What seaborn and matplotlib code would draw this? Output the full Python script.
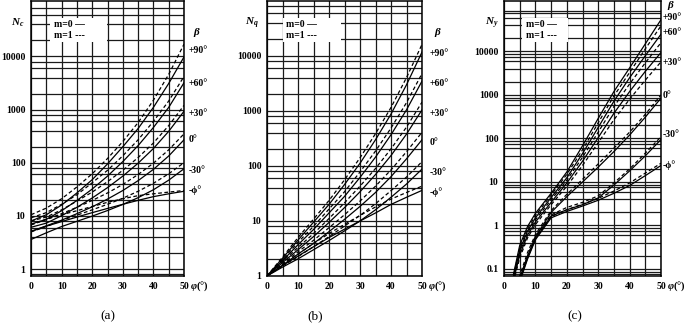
import pandas as pd
import seaborn as sns
import matplotlib.pyplot as plt
from matplotlib.patches import Rectangle
from matplotlib.ticker import LogLocator, NullFormatter, MultipleLocator

plt.rcParams["font.family"] = ["Liberation Serif", "DejaVu Serif"]
plt.rcParams["font.weight"] = "bold"
plt.rcParams["mathtext.fontset"] = "custom"
plt.rcParams["mathtext.it"] = "Liberation Serif:italic:bold"
plt.rcParams["mathtext.rm"] = "Liberation Serif:bold"
plt.rcParams["mathtext.bf"] = "Liberation Serif:bold"

phi = [0, 5, 10, 15, 20, 25, 30, 35, 40, 45, 50]
phi_c = [3, 5, 7.5, 10, 15, 20, 25, 30, 35, 40, 45, 50]
betas = ["+90°", "+60°", "+30°", "0°", "-30°", "-ϕ°"]

# (a) Nc, m=0 solid / m=1 dashed
nc_p90_m0 = [8.0, 10.5, 16, 27, 48, 95, 200, 440, 1100, 3100, 9800]
nc_p60_m0 = [7.0, 8.6, 12.5, 19.5, 32, 56, 105, 210, 460, 1100, 3200]
nc_p30_m0 = [6.1, 7.3, 10.1, 14.5, 21.7, 34, 56, 98, 185, 390, 930]
nc_0_m0 = [5.1, 6.5, 8.3, 11, 14.8, 20.7, 30, 46, 75, 134, 270]
nc_m30_m0 = [3.6, 4.8, 6.3, 7.9, 9.9, 12.6, 16.4, 22, 31, 47, 77]
nc_mphi_m0 = [5.1, 6.4, 7.8, 9.5, 11.5, 13.8, 16.5, 19.6, 23, 26, 29]
nc_p90_m1 = [10.5, 14, 21, 35, 62, 120, 250, 570, 1500, 4600, 17000]
nc_p60_m1 = [9.2, 11.5, 16.5, 25, 42, 72, 135, 270, 600, 1450, 4200]
nc_p30_m1 = [8.0, 9.5, 13, 19, 28, 44, 72, 125, 235, 500, 1200]
nc_0_m1 = [6.8, 8.5, 11, 14.5, 19.5, 27, 39, 60, 98, 175, 350]
nc_m30_m1 = [5.0, 6.3, 8.2, 10.3, 13, 16.5, 21.5, 29, 41, 62, 100]
nc_mphi_m1 = [6.8, 8.7, 10.5, 12.5, 15, 18, 21, 24, 26, 28, 30]

# (b) Nq
nq_p90_m0 = [1, 2.1, 4.5, 9.5, 20, 46, 112, 300, 880, 3000, 11800]
nq_p60_m0 = [1, 1.9, 3.7, 7.0, 14, 28, 62, 145, 370, 1050, 3500]
nq_p30_m0 = [1, 1.75, 3.0, 5.2, 9.4, 17.5, 34, 70, 155, 380, 1050]
nq_0_m0 = [1, 1.57, 2.5, 3.9, 6.4, 10.7, 18.4, 33, 64, 135, 300]
nq_m30_m0 = [1, 1.45, 2.05, 3.0, 4.4, 6.6, 10, 16, 27, 47, 88]
nq_mphi_m0 = [1, 1.55, 2.3, 3.4, 5.0, 7.1, 10, 14, 20, 27, 36]
nq_p90_m1 = [1, 2.2, 5.0, 10.8, 23.6, 56, 141, 387, 1160, 4050, 16300]
nq_p60_m1 = [1, 2.0, 4.1, 8.0, 16.5, 34, 78, 187, 490, 1420, 4800]
nq_p30_m1 = [1, 1.85, 3.3, 5.9, 11.1, 21.4, 43, 90, 205, 510, 1450]
nq_0_m1 = [1, 1.65, 2.75, 4.45, 7.55, 13, 23, 43, 85, 182, 410]
nq_m30_m1 = [1, 1.52, 2.25, 3.4, 5.2, 8.1, 12.6, 20.6, 35.6, 63, 120]
nq_mphi_m1 = [1, 1.62, 2.5, 3.9, 5.9, 8.7, 12.6, 18, 25, 33, 43]

# (c) Ny
ny_p90_m0 = [0.075, 0.35, 0.95, 1.9, 5.5, 17, 68, 290, 1200, 4200, 15000, 54000]
ny_p60_m0 = [0.065, 0.27, 0.75, 1.5, 4.4, 12.5, 45, 180, 720, 2500, 8000, 25000]
ny_p30_m0 = [0.055, 0.21, 0.6, 1.2, 3.4, 9.5, 30, 105, 380, 1200, 3500, 9500]
ny_0_m0 = [0.02, 0.06, 0.2, 0.55, 2.0, 4.6, 10, 22, 50, 120, 310, 850]
ny_m30_m0 = [0.02, 0.055, 0.18, 0.5, 1.65, 2.3, 3.0, 4.3, 8.5, 18, 40, 95]
ny_mphi_m0 = [0.02, 0.05, 0.17, 0.47, 1.5, 2.1, 2.8, 3.8, 5.5, 8.3, 14, 24]
ny_p90_m1 = [0.07, 0.3, 0.85, 1.7, 5.0, 15, 55, 230, 950, 3300, 11500, 39000]
ny_p60_m1 = [0.06, 0.24, 0.68, 1.35, 3.9, 11, 37, 140, 540, 1800, 5500, 16000]
ny_p30_m1 = [0.05, 0.18, 0.52, 1.05, 3.0, 8.0, 24, 80, 270, 800, 2200, 5800]
ny_0_m1 = [0.025, 0.07, 0.24, 0.62, 2.2, 5.2, 11.5, 26, 60, 140, 360, 1000]
ny_m30_m1 = [0.02, 0.06, 0.2, 0.55, 1.75, 2.6, 3.4, 4.8, 9.5, 20, 46, 110]
ny_mphi_m1 = [0.02, 0.055, 0.19, 0.5, 1.6, 2.3, 3.1, 4.2, 6.2, 9.5, 16, 27]


def to_frame(phis, m0, m1):
    rows = []
    for beta, a, b in zip(betas, m0, m1):
        for p, v in zip(phis, a):
            rows.append((p, v, beta, "m=0"))
        for p, v in zip(phis, b):
            rows.append((p, v, beta, "m=1"))
    return pd.DataFrame(rows, columns=["phi", "N", "beta", "m"])


df_a = to_frame(phi, [nc_p90_m0, nc_p60_m0, nc_p30_m0, nc_0_m0, nc_m30_m0, nc_mphi_m0],
                [nc_p90_m1, nc_p60_m1, nc_p30_m1, nc_0_m1, nc_m30_m1, nc_mphi_m1])
df_b = to_frame(phi, [nq_p90_m0, nq_p60_m0, nq_p30_m0, nq_0_m0, nq_m30_m0, nq_mphi_m0],
                [nq_p90_m1, nq_p60_m1, nq_p30_m1, nq_0_m1, nq_m30_m1, nq_mphi_m1])
df_c = to_frame(phi_c, [ny_p90_m0, ny_p60_m0, ny_p30_m0, ny_0_m0, ny_m30_m0, ny_mphi_m0],
                [ny_p90_m1, ny_p60_m1, ny_p30_m1, ny_0_m1, ny_m30_m1, ny_mphi_m1])

fig = plt.figure(figsize=(6.85, 3.26), dpi=100)


def panel(rect, df, ylim, yt, subs, ylab, lab_pos, beta_pos, box, cap_x, cap):
    ax = fig.add_axes(rect)
    sns.lineplot(data=df, x="phi", y="N", hue="beta", style="m",
                 palette={b: "black" for b in betas},
                 dashes={"m=0": "", "m=1": (3, 2)},
                 estimator=None, linewidth=0.9, legend=False, ax=ax)
    ax.set_yscale("log")
    ax.set_xlim(0, 50)
    ax.set_ylim(*ylim)
    ax.set_yticks(yt)
    ax.set_yticklabels([f"{v:g}" for v in yt])
    ax.yaxis.set_minor_locator(LogLocator(base=10, subs=subs, numticks=20))
    ax.yaxis.set_minor_formatter(NullFormatter())
    ax.set_xticks([0, 10, 20, 30, 40, 50])
    ax.xaxis.set_minor_locator(MultipleLocator(5))
    ax.grid(which="both", color="#1a1a1a", linewidth=0.9)
    ax.tick_params(which="both", length=0, labelsize=7, pad=4)
    for s in ax.spines.values():
        s.set_color("black")
        s.set_linewidth(1.1)
    ax.set_xlabel("")
    ax.set_ylabel("")
    ax.text(lab_pos, 0.92, ylab, transform=ax.transAxes, ha="center",
            va="center", fontsize=8)
    # white legend box over the grid
    ax.add_patch(Rectangle((box[0], 0.85), box[1], 0.087, transform=ax.transAxes,
                           facecolor="white", edgecolor="none", zorder=2.5))
    ax.text(box[0] + 0.025, 0.893, "m=0 \u2014\nm=1 ---", transform=ax.transAxes,
            ha="left", va="center", fontsize=7, linespacing=1.3, zorder=3)
    bx, bys = beta_pos
    ax.text(bx + 0.03, bys[0], r"$\beta$", transform=ax.transAxes,
            ha="left", va="center", fontsize=8)
    for b, y in zip(betas, bys[1:]):
        ax.text(bx, y, b, transform=ax.transAxes, ha="left", va="center",
                fontsize=7)
    ax.text(1.04, -0.038, r"$\varphi$(°)", transform=ax.transAxes,
            ha="left", va="center", fontsize=7.5)
    fig.text(cap_x, 0.03, cap, ha="center", va="center", fontsize=9.5,
             fontweight="normal")
    return ax


panel([0.0453, 0.1534, 0.2234, 0.8436], df_a, (0.74, 1.1e5),
      [1, 10, 100, 1000, 10000], [2, 4, 6, 8], r"$N_c$", -0.09,
      (1.03, [0.887, 0.82, 0.70, 0.59, 0.495, 0.385, 0.313]), (0.124, 0.373),
      0.158, "(a)")
panel([0.3898, 0.1534, 0.2263, 0.8436], df_b, (1, 1.0e5),
      [1, 10, 100, 1000, 10000], [2, 4, 6, 8], r"$N_q$", -0.1,
      (1.05, [0.887, 0.81, 0.70, 0.59, 0.487, 0.378, 0.305]), (0.10, 0.38),
      0.46, "(b)")
panel([0.7358, 0.1534, 0.2292, 0.8436], df_c, (0.069, 1.45e5),
      [0.1, 1, 10, 100, 1000, 10000], [2, 4, 6, 7.5, 8.7], r"$N_y$", -0.076,
      (1.01, [0.985, 0.94, 0.884, 0.775, 0.658, 0.513, 0.404]), (0.115, 0.295),
      0.839, "(c)")

fig.savefig("out.png", dpi=100)
